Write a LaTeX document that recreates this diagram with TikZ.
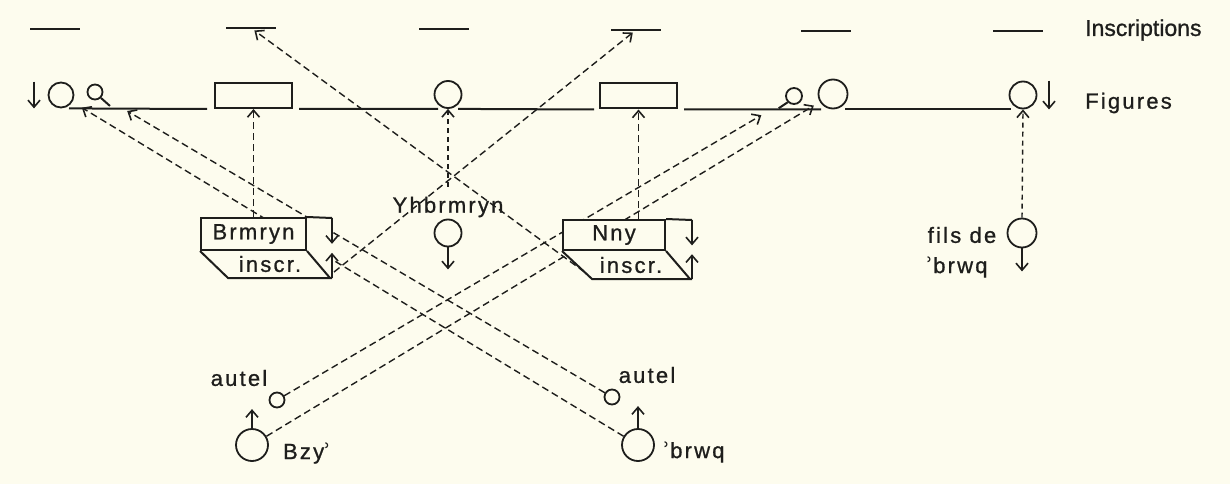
\documentclass[tikz,border=0pt]{standalone}
\usepackage{fontspec}
\setmainfont{Liberation Sans}[FakeBold=0.9]
\newfontfamily\alef{DejaVu Sans}
\usetikzlibrary{arrows.meta,calc,backgrounds}

\definecolor{paper}{RGB}{253,252,238}
\definecolor{ink}{RGB}{30,30,28}

\begin{document}
\begin{tikzpicture}[x=1pt,y=-1pt,
  figline/.style={draw=ink,line width=2pt},
  dashlink/.style={draw=ink,line width=1.4pt,dash pattern=on 7pt off 4pt},
  dotlink/.style={draw=ink,line width=1.4pt,dash pattern=on 5pt off 4pt},
  arrowed/.style={-{Straight Barb[length=7pt,width=12pt,line width=1.6pt]}},
  fig/.style={circle,draw=ink,line width=1.8pt,fill=paper,inner sep=0pt,minimum size=#1},
  plate/.style={rectangle,draw=ink,line width=2pt,fill=paper,inner sep=0pt,minimum width=77pt,minimum height=25pt},
  insc/.style={rectangle,fill=ink,inner sep=0pt,minimum width=50pt,minimum height=2.2pt},
  lbl/.style={text=ink,inner sep=0pt,font=\fontsize{22}{24}\selectfont\addfontfeature{LetterSpace=10}},
  caption/.style={text=ink,inner sep=0pt,font=\fontsize{23}{25}\selectfont}]

\begin{pgfonlayer}{background}
  \fill[paper] (0,0) rectangle (1230,484);
\end{pgfonlayer}
\useasboundingbox (0,0) rectangle (1230,484);

% row of inscriptions
\node[insc] (i1) at (55,29) {};
\node[insc] (i2) at (251,28) {};
\node[insc] (i3) at (444,29) {};
\node[insc] (i4) at (636,30) {};
\node[insc] (i5) at (826,31) {};
\node[insc] (i6) at (1018,31) {};
\node[caption,anchor=west] (tIns) at (1085,30) {Inscriptions};

% row of figures
\node[fig=25pt] (fL) at (61,95) {};
\node[fig=15pt] (aL) at (95,92) {};
\node[plate] (r1) at (253.5,95.5) {};
\node[fig=27pt] (fM) at (448,94.5) {};
\node[plate] (r2) at (638.5,96) {};
\node[fig=16pt] (aR) at (794,96) {};
\node[fig=29pt] (fR) at (833,94) {};
\node[fig=27pt] (fE) at (1023,95) {};
\node[lbl,anchor=west] (tFig) at (1085,103) {Figures};

\draw[figline] ([xshift=8pt]fL.south) -- ([xshift=-7pt]r1.south west);
\draw[figline] ([xshift=6pt]r1.south east) -- ([xshift=-10pt]fM.south);
\draw[figline] ([xshift=10pt]fM.south) -- ([xshift=-5pt]r2.south west);
\draw[figline] ([xshift=6pt]r2.south east) -- ([xshift=-12pt]fR.south);
\draw[figline] ([xshift=12pt]fR.south) -- ([xshift=-12pt]fE.south);
\draw[figline] (aL.-45) -- ++(9,8);
\draw[figline] (aR.-135) -- ++(-9,6);
\draw[figline,arrowed] ([xshift=-27pt]fL.north) -- ([xshift=-27pt]fL.south);
\draw[figline,arrowed] ([xshift=26pt]fE.north) -- ([xshift=26pt]fE.south);

% box of Brmryn and its inscription
\node[lbl,draw=ink,line width=2pt,fill=paper,minimum width=105pt,minimum height=32pt] (bB) at (253.5,234) {Brmryn};
\coordinate (bBtr) at (332,218);
\coordinate (bBbr) at (332,278);
\coordinate (bBbl) at (228,278);
\fill[paper] (bB.north east) -- (bBtr) -- (bBbr) -- (bBbl) -- (bB.south west) -- (bB.south east) -- cycle;
\draw[figline] (bB.north east) -- (bBtr);
\draw[figline] (bBbr) -- (bBbl) -- (bB.south west);
\draw[figline] (bB.south east) -- ([xshift=-2pt]bBbr);
\draw[figline,arrowed] (bBtr) -- ($(bBtr)!0.43!(bBbr)$);
\draw[figline,arrowed] (bBbr) -- ($(bBbr)!0.42!(bBtr)$);
\node[lbl] (bBi) at (270,264) {inscr.};
\coordinate (bBo) at ($(bBbr)+(2,-6)$);

% box of Nny and its inscription
\node[lbl,draw=ink,line width=2pt,fill=paper,minimum width=102pt,minimum height=30pt] (bN) at (614,235) {Nny};
\coordinate (bNtr) at (692,220);
\coordinate (bNbr) at (692,279);
\coordinate (bNbl) at (592,279);
\fill[paper] (bN.north east) -- (bNtr) -- (bNbr) -- (bNbl) -- (bN.south west) -- (bN.south east) -- cycle;
\draw[figline] (bN.north east) -- (bNtr);
\draw[figline] (bNbr) -- (bNbl) -- (bN.south west);
\draw[figline] (bN.south east) -- ([xshift=-2pt]bNbr);
\draw[figline,arrowed] (bNtr) -- ($(bNtr)!0.43!(bNbr)$);
\draw[figline,arrowed] (bNbr) -- ($(bNbr)!0.42!(bNtr)$);
\node[lbl] (bNi) at (631,265) {inscr.};
\coordinate (bNo) at ($(bN.south west)!0.75!(bNbl)$);

% Yhbrmryn
\node[lbl] (yhb) at (448,207) {Yhbrmryn};
\node[fig=27pt] (yc) at (448,233) {};
\draw[figline,arrowed] (yc.south) -- ++(0,22);

% son of 'brwq
\node[fig=29pt] (fS) at (1022,233) {};
\draw[figline,arrowed] (fS.south) -- ++(0,23);
\node[lbl] (tFils) at (962,235) {fils de};
\node[lbl] (tFbr) at (957,267) {{\alef ʾ}brwq};

% altars and donors
\node[fig=15pt] (uL) at (277,400) {};
\node[lbl] (tuL) at (239,378) {autel};
\node[fig=32pt] (bz) at (252,445) {};
\draw[figline,arrowed] (bz.north) -- ++(0,-19);
\node[lbl] (tBz) at (307,453) {Bzy{\alef ʾ}};

\node[fig=15pt] (uR) at (612,397) {};
\node[lbl] (tuR) at (647,375) {autel};
\node[fig=32pt] (bw) at (638,445) {};
\draw[figline,arrowed] (bw.north) -- ++(0,-22);
\node[lbl] (tBw) at (694,452) {{\alef ʾ}brwq};

% dashed links, kept behind the boxes
\begin{pgfonlayer}{background}
  \draw[dashlink,arrowed,shorten >=29pt] (uL) -- (aR);
  \draw[dashlink,arrowed,shorten >=7pt] (bz) -- (fR);
  \draw[dashlink,arrowed,shorten >=29pt] (uR) -- (aL);
  \draw[dashlink,arrowed,shorten >=11pt] (bw) -- (fL);
  \draw[dashlink,arrowed,shorten >=2pt] (bBo) -- (i4);
  \draw[dashlink,arrowed,shorten >=2pt] (bNo) -- (i2);
  \draw[dashlink,arrowed] (bB.north) -- (r1.south);
  \draw[dashlink,arrowed] (r2.south |- bN.north) -- (r2.south);
  \draw[dotlink,arrowed] ([yshift=10pt]yhb.north) -- (fM.south);
  \draw[dotlink,arrowed] (fS.north) -- (fE.south);
\end{pgfonlayer}
\end{tikzpicture}
\end{document}
